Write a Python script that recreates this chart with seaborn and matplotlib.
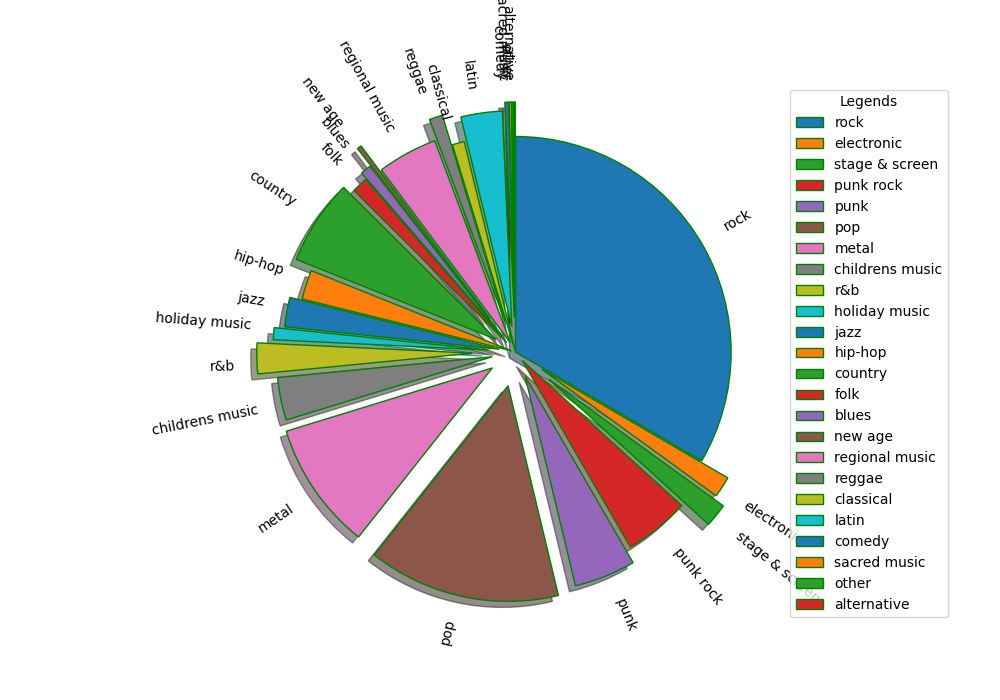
import matplotlib
matplotlib.use("Agg")
import matplotlib.pyplot as plt
import seaborn as sns

genres = ["rock", "electronic", "stage & screen", "punk rock", "punk", "pop",
          "metal", "childrens music", "r&b", "holiday music", "jazz", "hip-hop",
          "country", "folk", "blues", "new age", "regional music", "reggae",
          "classical", "latin", "comedy", "sacred music", "other", "alternative"]
shares = [33.4, 1.58, 1.75, 4.9, 4.6, 14.4,
          9.6, 3.2, 2.3, 0.9, 2.2, 2.2,
          6.4, 1.2, 0.8, 0.33, 4.5, 1.0,
          0.9, 3.1, 0.28, 0.17, 0.14, 0.11]
explode = [0.0, 0.145, 0.2, 0.05, 0.12, 0.16,
           0.13, 0.11, 0.2, 0.125, 0.077, 0.02,
           0.106, 0.06, 0.095, 0.195, 0.05, 0.15,
           0.005, 0.12, 0.16, 0.16, 0.16, 0.16]

colors = sns.color_palette("tab10", 10)

fig, ax = plt.subplots(figsize=(10, 7), dpi=100)
ax.set_position([0.128, 0.112, 0.775, 0.77])
wedges, texts = ax.pie(shares, labels=genres, explode=explode, colors=colors,
                       startangle=90, counterclock=False, shadow=True,
                       rotatelabels=True,
                       wedgeprops={"edgecolor": "green", "linewidth": 1})
fig.legend(wedges, genres, title="Legends", loc="center left",
           bbox_to_anchor=(0.783, 0.495))
fig.savefig("out.png", dpi=100)
